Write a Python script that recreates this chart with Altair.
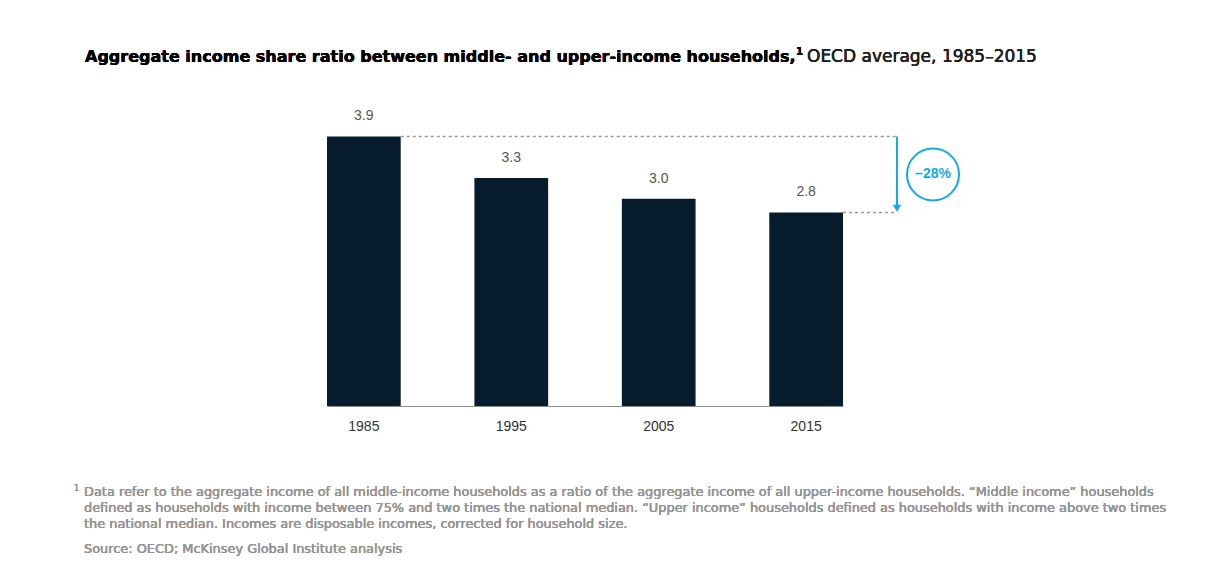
import altair as alt
import pandas as pd

years = ["1985", "1995", "2005", "2015"]
values = [3.9, 3.3, 3.0, 2.8]
value_labels = ["3.9", "3.3", "3.0", "2.8"]
change_label = "\u201328%"

title_bold = "Aggregate income share ratio between middle- and upper-income households,"
title_regular = "OECD average, 1985\u20132015"
footnote_lines = [
    "Data refer to the aggregate income of all middle-income households as a ratio of the aggregate income of all upper-income households. \u201cMiddle income\u201d households",
    "defined as households with income between 75% and two times the national median. \u201cUpper income\u201d households defined as households with income above two times",
    "the national median. Incomes are disposable incomes, corrected for household size.",
]
source_line = "Source: OECD; McKinsey Global Institute analysis"

FONT = "Liberation Sans"
WIDE = "DejaVu Sans"
BAR = "#061c2c"
BLUE = "#14a8ee"
DASH = "#9a9a9a"

df = pd.DataFrame({"year": years, "value": values, "label": value_labels})

xscale = alt.Scale(domain=years, paddingInner=0.5, paddingOuter=0)
yscale = alt.Scale(domain=[0, 4.5])

base = alt.Chart(df)

bars = base.mark_bar(color=BAR).encode(
    x=alt.X("year:N", scale=xscale, sort=years, title=None,
            axis=alt.Axis(labelAngle=0, ticks=False, domainColor="#8c8c8c", domainWidth=1.2,
                          labelPadding=13, labelFontSize=14, labelColor="#333333", labelFont=FONT)),
    y=alt.Y("value:Q", scale=yscale, axis=None),
)

vlabels = base.mark_text(dy=-16, baseline="alphabetic", fontSize=14, color="#555555", font=FONT).encode(
    x=alt.X("year:N", scale=xscale, sort=years),
    y=alt.Y("value:Q", scale=yscale),
    text="label:N",
)

first, last = df.iloc[0], df.iloc[-1]
ann = pd.DataFrame({
    "y_from": [first["value"]], "y_to": [last["value"]],
    "first": [first["year"]], "last": [last["year"]],
    "mid": [(first["value"] + last["value"]) / 2],
    "change": [change_label],
})
abase = alt.Chart(ann)

top_dash = abase.mark_rule(color=DASH, strokeDash=[3, 3], strokeWidth=1.5, x2Offset=54).encode(
    x=alt.X("first:N", scale=xscale, bandPosition=1),
    x2=alt.X2("last:N", bandPosition=1),
    y=alt.Y("y_from:Q", scale=yscale),
)
bot_dash = abase.mark_rule(color=DASH, strokeDash=[3, 3], strokeWidth=1.5, x2Offset=54).encode(
    x=alt.X("last:N", scale=xscale, bandPosition=1),
    x2=alt.X2("last:N", bandPosition=1),
    y=alt.Y("y_to:Q", scale=yscale),
)
arrow = abase.mark_rule(color=BLUE, strokeWidth=2, xOffset=54, y2Offset=-6).encode(
    x=alt.X("last:N", scale=xscale, bandPosition=1),
    y=alt.Y("y_from:Q", scale=yscale),
    y2="y_to:Q",
)
head = abase.mark_point(shape="triangle-down", filled=True, color=BLUE, opacity=1, size=70,
                        xOffset=54, yOffset=-4).encode(
    x=alt.X("last:N", scale=xscale, bandPosition=1),
    y=alt.Y("y_to:Q", scale=yscale),
)
circle = abase.mark_point(shape="circle", size=2704, fill="white", stroke=BLUE, strokeWidth=2,
                          opacity=1, fillOpacity=1, xOffset=90).encode(
    x=alt.X("last:N", scale=xscale, bandPosition=1),
    y=alt.Y("mid:Q", scale=yscale),
)
circle_text = abase.mark_text(color=BLUE, fontSize=14, fontWeight="bold", font=FONT, xOffset=90).encode(
    x=alt.X("last:N", scale=xscale, bandPosition=1),
    y=alt.Y("mid:Q", scale=yscale),
    text="change:N",
)

t1 = alt.Chart(df).mark_text(align="left", baseline="alphabetic", fontSize=16, fontWeight="bold",
                             font=WIDE, color="#000000").encode(
    x=alt.value(-242), y=alt.value(-33), text=alt.value(title_bold))
t1s = alt.Chart(df).mark_text(align="left", baseline="alphabetic", fontSize=10, fontWeight="bold",
                              font=WIDE, color="#000000").encode(
    x=alt.value(469), y=alt.value(-40), text=alt.value("1"))
t2 = alt.Chart(df).mark_text(align="left", baseline="alphabetic", fontSize=17, font=WIDE,
                             color="#222222").encode(
    x=alt.value(480), y=alt.value(-33), text=alt.value(title_regular))
sup = alt.Chart(df).mark_text(align="left", baseline="alphabetic", fontSize=8, font=WIDE,
                              color="#959595").encode(
    x=alt.value(-253), y=alt.value(396), text=alt.value("1"))
fn = alt.Chart(df).mark_text(align="left", baseline="alphabetic", fontSize=12.9, font=WIDE,
                             color="#959595", lineHeight=16).encode(
    x=alt.value(-243), y=alt.value(401), text=alt.value(footnote_lines))
src = alt.Chart(df).mark_text(align="left", baseline="alphabetic", fontSize=12.9, font=WIDE,
                              color="#959595").encode(
    x=alt.value(-243), y=alt.value(458), text=alt.value(source_line))

chart = alt.layer(
    bars, vlabels, top_dash, bot_dash, arrow, head, circle, circle_text, t1, t1s, t2, sup, fn, src
).properties(
    width=516, height=311,
    autosize=alt.AutoSizeParams(type="none"),
    padding={"left": 319, "top": 87, "right": 350, "bottom": 165},
    background="white",
).configure_view(stroke=None)

chart.save("out.html", embed_options={"renderer": "svg", "actions": False})
